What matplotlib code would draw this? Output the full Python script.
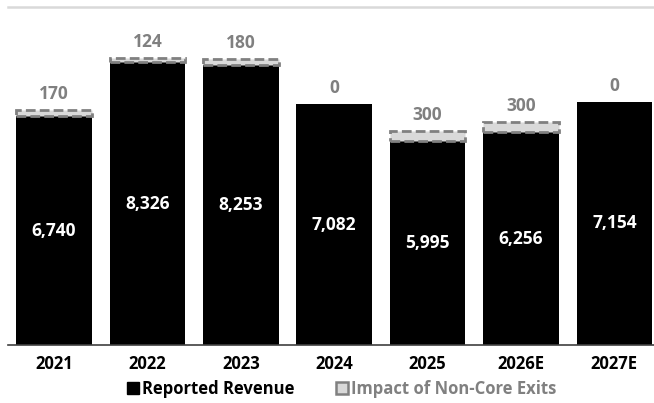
import matplotlib
matplotlib.use("Agg")
import matplotlib.pyplot as plt
from matplotlib.patches import Patch

years = ["2021", "2022", "2023", "2024", "2025", "2026E", "2027E"]
reported = [6740, 8326, 8253, 7082, 5995, 6256, 7154]
exits = [170, 124, 180, 0, 300, 300, 0]

BLACK = "#000000"
GRAY_EDGE = "#808080"
GRAY_FILL = "#d9d9d9"
LABEL_GRAY = "#808080"

plt.rcParams["font.family"] = ["Open Sans", "DejaVu Sans"]

fig = plt.figure(figsize=(6.54, 4.03), dpi=100)
ax = fig.add_axes([0.0122, 0.1439, 0.9878, 0.8387])

x = list(range(len(years)))
width = 0.81

ax.bar(x, reported, width=width, color=BLACK, zorder=2)

# only draw the exit segment where there is one
idx = [i for i, e in enumerate(exits) if e > 0]
ax.bar([x[i] for i in idx], [exits[i] for i in idx], width=width,
       bottom=[reported[i] for i in idx], color=GRAY_FILL,
       edgecolor=GRAY_EDGE, linewidth=2.0, linestyle=(0, (3.5, 1.5)), zorder=3)

for xi, r, e in zip(x, reported, exits):
    ax.text(xi, r / 2, f"{r:,}", ha="center", va="center", color="white",
            fontsize=12.5, fontweight="bold", zorder=4)
    ax.annotate(f"{e:,}", (xi, r + e), xytext=(0, 11.5), textcoords="offset points",
                ha="center", va="center", color=LABEL_GRAY, fontsize=12.5,
                fontweight="bold")

ax.set_xlim(-0.4925, 6.424)
ax.set_ylim(0, 9950)
ax.set_yticks([])
ax.set_xticks(x)
ax.set_xticklabels(years, fontsize=12, fontweight="bold")
ax.tick_params(axis="x", length=0, pad=7)

for side in ["left", "right"]:
    ax.spines[side].set_visible(False)
ax.spines["top"].set_color("#d9d9d9")
ax.spines["top"].set_linewidth(1.8)
ax.spines["bottom"].set_color("#404040")
ax.spines["bottom"].set_linewidth(1.2)

handles = [
    Patch(facecolor=BLACK, edgecolor=BLACK, label="Reported Revenue"),
    Patch(facecolor=GRAY_FILL, edgecolor=GRAY_EDGE, linewidth=1.8,
          label="Impact of Non-Core Exits"),
]
leg = fig.legend(handles=handles, loc="center", bbox_to_anchor=(0.523, 0.035),
                 ncol=2, frameon=False, handlelength=0.7, handleheight=0.7,
                 handletextpad=0.2, columnspacing=2.5,
                 prop={"size": 12, "weight": "bold"})
leg.get_texts()[1].set_color(LABEL_GRAY)

fig.savefig("out.png", dpi=100)
